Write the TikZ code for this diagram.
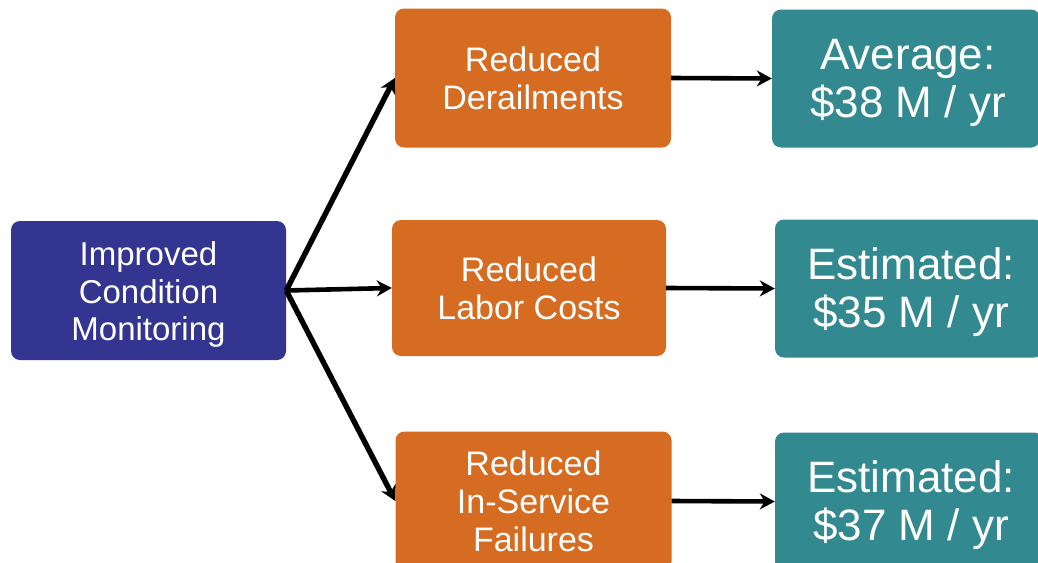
\documentclass[tikz,border=0pt]{standalone}
\usepackage{fontspec}
\setmainfont{Liberation Sans}
\usetikzlibrary{arrows.meta}
\definecolor{boxblue}{RGB}{51,53,145}
\definecolor{boxorange}{RGB}{213,108,33}
\definecolor{boxteal}{RGB}{50,138,144}
\begin{document}
\begin{tikzpicture}[x=1pt,y=-1pt,
  basebox/.style={rectangle,rounded corners=9pt,inner sep=0pt,text=white,align=center},
  bluebox/.style={basebox,fill=boxblue,minimum width=275pt,minimum height=139pt},
  bluetext/.style={text=white,align=center,inner sep=0pt,font=\fontsize{33}{37.5}\selectfont,yshift=-4pt},
  orangebox/.style={basebox,fill=boxorange,minimum width=276pt,minimum height=139pt,font=\fontsize{34}{38}\selectfont},
  tealbox/.style={basebox,fill=boxteal,minimum width=268pt,minimum height=138pt},
  tealtext/.style={text=white,align=center,inner sep=0pt,font=\fontsize{44}{48}\selectfont,yshift=-4pt,xshift=2pt},
  conn/.style={draw=black,line width=4.6pt,-{Stealth[length=15pt,width=16pt]}},
  diagconn/.style={conn,line width=5.4pt}]
\clip (0,0) rectangle (1038,562);
\fill[white] (0,0) rectangle (1038,562);
\node[bluebox,label={[bluetext]center:{Improved\\Condition\\Monitoring}}] (icm) at (148.5,290.5) {};
\node[orangebox] (rd) at (533,78) {Reduced\\Derailments};
\node[orangebox,minimum width=274pt,minimum height=136pt] (rl) at (529,288) {Reduced\\Labor Costs};
\node[orangebox] (rf) at (533.5,501) {Reduced\\In-Service\\Failures};
\node[tealbox,label={[tealtext]center:{Average:\\\$38 M / yr}}] (avg) at (906,78.5) {};
\node[tealbox,label={[tealtext]center:{Estimated:\\\$35 M / yr}}] (est1) at (909,288.5) {};
\node[tealbox,label={[tealtext]center:{Estimated:\\\$37 M / yr}}] (est2) at (909,501.5) {};
\draw[diagconn] (icm.east) -- (rd.west);
\draw[conn] (icm.east) -- (rl.west);
\draw[diagconn] (icm.east) -- (rf.west);
\draw[conn] (rd.east) -- (avg.west);
\draw[conn] (rl.east) -- (est1.west);
\draw[conn] (rf.east) -- (est2.west);
\end{tikzpicture}
\end{document}
